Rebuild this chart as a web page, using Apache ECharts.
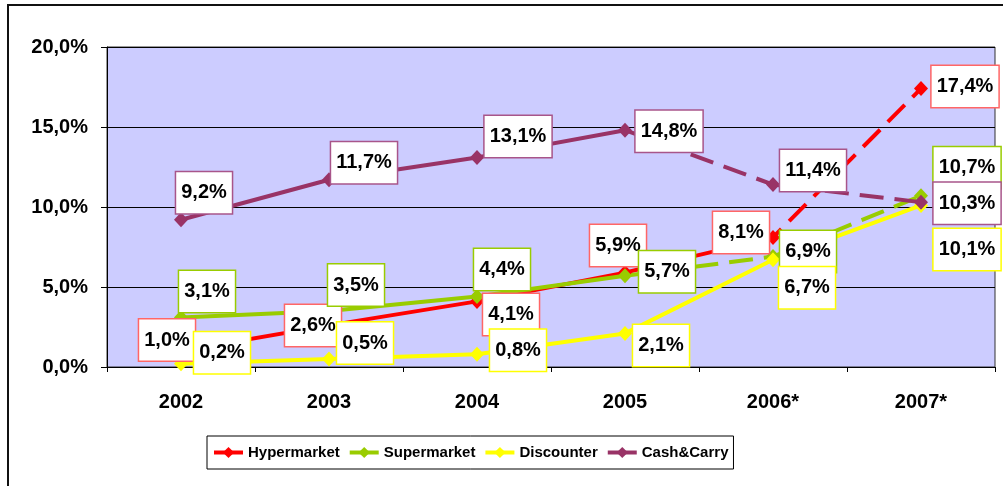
<!DOCTYPE html>
<html>
<head>
<meta charset="utf-8">
<script src="https://cdn.jsdelivr.net/npm/echarts@6/dist/echarts.min.js"></script>
<style>
  html, body { margin: 0; padding: 0; background: #fff; }
  #chart { width: 1003px; height: 486px; }
</style>
</head>
<body>
<div id="chart"></div>
<script>
const years = ['2002', '2003', '2004', '2005', '2006*', '2007*'];
const hypermarket = [1.0, 2.6, 4.1, 5.9, 8.1, 17.4];
const supermarket = [3.1, 3.5, 4.4, 5.7, 6.9, 10.7];
const discounter = [0.2, 0.5, 0.8, 2.1, 6.7, 10.1];
const cashCarry = [9.2, 11.7, 13.1, 14.8, 11.4, 10.3];
const yTicks = [0, 5, 10, 15, 20];

// label box centre offsets from each point (px)
const labelOffsets = {
  Hypermarket: [[-14, -11], [-16, 0], [34, 13], [-7, -27], [-32, -5], [44, -2]],
  Supermarket: [[26, -26], [27, -26], [25, -27], [42, -4], [35, -5], [46, -28]],
  Discounter: [[41, -11], [36, -16], [41, -4], [36, 12], [34, 28], [46, 44]],
  'Cash&Carry': [[23, -27], [35, -17], [41, -21], [44, 1], [40, -14], [46, 1]]
};

const lines = [
  { name: 'Hypermarket', values: hypermarket, color: '#FF0000', border: '#FF6666', dashFrom: 3 },
  { name: 'Supermarket', values: supermarket, color: '#99CC00', border: '#99CC00', dashFrom: 3 },
  { name: 'Discounter', values: discounter, color: '#FFFF00', border: '#FFFF00', dashFrom: null },
  { name: 'Cash&Carry', values: cashCarry, color: '#993366', border: '#A8558A', dashFrom: 3 }
];

const pct = v => v.toFixed(1).replace('.', ',') + '%';

const series = [];
lines.forEach(l => {
  // points + labels (no line)
  series.push({
    name: l.name,
    type: 'line',
    z: 4,
    symbol: 'diamond',
    symbolSize: [14, 15],
    itemStyle: { color: l.color },
    lineStyle: { width: 0, color: l.color },
    data: l.values.map((v, i) => ({
      value: v,
      label: { offset: labelOffsets[l.name][i] }
    })),
    label: {
      show: true,
      position: 'inside',
      formatter: p => pct(p.value),
      color: '#000',
      fontFamily: 'Liberation Sans, Arial, sans-serif',
      fontWeight: 'bold',
      fontSize: 20,
      backgroundColor: '#fff',
      borderColor: l.border,
      borderWidth: 1.5,
      padding: [11, 5, 10, 5]
    }
  });
  const solid = l.values.map((v, i) => (l.dashFrom === null || i <= l.dashFrom) ? v : null);
  series.push({
    name: l.name,
    type: 'line',
    z: 2,
    showSymbol: false,
    silent: true,
    lineStyle: { width: 4, color: l.color },
    data: solid
  });
  if (l.dashFrom !== null) {
    const dashed = l.values.map((v, i) => i >= l.dashFrom ? v : null);
    series.push({
      name: l.name,
      type: 'line',
      z: 2,
      showSymbol: false,
      silent: true,
      lineStyle: { width: 4, color: l.color, type: [24, 11] },
      data: dashed
    });
  }
});

const chart = echarts.init(document.getElementById('chart'));
chart.setOption({
  animation: false,
  backgroundColor: '#fff',
  graphic: [{
    type: 'rect',
    shape: { x: 8, y: 5, width: 1020, height: 520 },
    style: { fill: 'none', stroke: '#111', lineWidth: 2 },
    silent: true
  }],
  grid: {
    left: 107, right: 8, top: 47, bottom: 119,
    show: true,
    backgroundColor: '#CCCCFF',
    borderColor: '#333',
    borderWidth: 1
  },
  legend: {
    data: lines.map(l => l.name),
    left: 207,
    top: 436,
    padding: [9, 5, 9, 5],
    itemGap: 8,
    itemWidth: 29,
    itemHeight: 14,
    borderColor: '#000',
    borderWidth: 1,
    lineStyle: { width: 4 },
    textStyle: {
      fontFamily: 'Liberation Sans Narrow, Arial Narrow, Liberation Sans, sans-serif',
      fontWeight: 'bold',
      fontSize: 15,
      color: '#000'
    }
  },
  xAxis: {
    type: 'category',
    data: years,
    boundaryGap: true,
    axisLine: { lineStyle: { color: '#000', width: 1 } },
    axisTick: { show: true, length: 5, lineStyle: { color: '#000' } },
    axisLabel: {
      margin: 25,
      color: '#000',
      fontFamily: 'Liberation Sans, Arial, sans-serif',
      fontWeight: 'bold',
      fontSize: 20
    }
  },
  yAxis: {
    type: 'value',
    min: yTicks[0],
    max: yTicks[yTicks.length - 1],
    interval: 5,
    axisLine: { show: true, lineStyle: { color: '#000', width: 1 } },
    axisTick: { show: true, length: 6, lineStyle: { color: '#000' } },
    splitLine: { show: true, lineStyle: { color: '#000', width: 1 } },
    axisLabel: {
      margin: 19,
      color: '#000',
      formatter: v => pct(v),
      fontFamily: 'Liberation Sans, Arial, sans-serif',
      fontWeight: 'bold',
      fontSize: 20
    }
  },
  series: series
});
</script>
</body>
</html>
